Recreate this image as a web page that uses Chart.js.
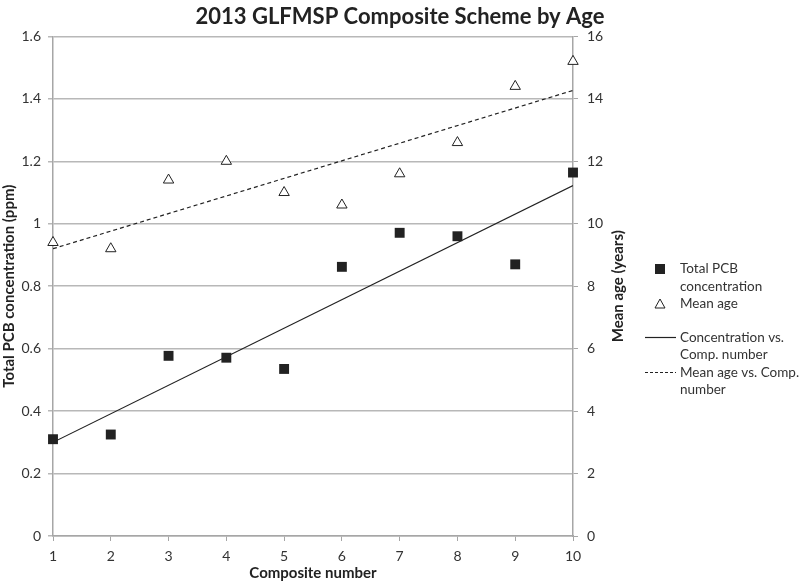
<!DOCTYPE html>
<html lang="en">
<head>
    <meta charset="UTF-8">
    <title>2013 GLFMSP Composite Scheme by Age</title>
    <script src="https://cdn.jsdelivr.net/npm/chart.js"></script>
    <style>
        html, body { margin: 0; padding: 0; background: #fff; }
        .wrap { width: 800px; height: 584px; position: relative; }
    </style>
</head>
<body>
    <div class="wrap"><canvas id="chart" width="800" height="584"></canvas></div>

    <script>
        // Composite numbers (x)
        const composites = [1, 2, 3, 4, 5, 6, 7, 8, 9, 10];
        // Total PCB concentration, ppm (left axis)
        const pcbConc = [0.31, 0.325, 0.577, 0.571, 0.535, 0.862, 0.971, 0.96, 0.87, 1.164];
        // Mean age, years (right axis)
        const meanAge = [9.4, 9.2, 11.4, 12.0, 11.0, 10.6, 11.6, 12.6, 14.4, 15.2];
        // trendline end points
        const concTrendX = [1, 10];
        const concTrendY = [0.30, 1.122];
        const ageTrendX = [1, 10];
        const ageTrendY = [9.2, 14.27];

        const rightTitle = 'Mean age (years)';
        const legendItems = [
            { kind: 'rect', lines: ['Total PCB', 'concentration'] },
            { kind: 'triangle', lines: ['Mean age'] },
            { kind: 'solid', lines: ['Concentration vs.', 'Comp. number'] },
            { kind: 'dash', lines: ['Mean age vs. Comp.', 'number'] }
        ];

        const FONT = 'Lato, "Liberation Sans", sans-serif';
        const INK = '#222';
        const GRID = '#b8b8b8';
        const AXIS = '#a6a6a6';

        const toPts = (xs, ys) => xs.map((x, i) => ({ x: x, y: ys[i] }));

        // legend + right axis title, drawn beside the plot
        const sideLegend = {
            id: 'sideLegend',
            afterDraw(chart) {
                const ctx = chart.ctx;
                const area = chart.chartArea;
                ctx.save();

                // right axis title, reading bottom to top
                ctx.save();
                ctx.translate(area.right + 45, (area.top + area.bottom) / 2);
                ctx.rotate(-Math.PI / 2);
                ctx.font = 'bold 15px ' + FONT;
                ctx.fillStyle = '#222';
                ctx.textAlign = 'center';
                ctx.textBaseline = 'middle';
                ctx.fillText(rightTitle, 0, 0);
                ctx.restore();

                const x0 = 660, tx = 680;
                let y = 269;
                ctx.font = '13.5px ' + FONT;
                ctx.textBaseline = 'middle';
                ctx.textAlign = 'left';
                legendItems.forEach((it, k) => {
                    ctx.strokeStyle = INK;
                    ctx.fillStyle = INK;
                    if (it.kind === 'rect') {
                        ctx.fillRect(x0 - 5, y - 5, 10, 10);
                    } else if (it.kind === 'triangle') {
                        ctx.lineWidth = 1;
                        ctx.beginPath();
                        ctx.moveTo(x0, y - 5);
                        ctx.lineTo(x0 + 5, y + 4);
                        ctx.lineTo(x0 - 5, y + 4);
                        ctx.closePath();
                        ctx.stroke();
                    } else {
                        ctx.lineWidth = 1.2;
                        ctx.setLineDash(it.kind === 'dash' ? [3, 2] : []);
                        ctx.beginPath();
                        ctx.moveTo(x0 - 15, y);
                        ctx.lineTo(x0 + 16, y);
                        ctx.stroke();
                        ctx.setLineDash([]);
                    }
                    ctx.fillStyle = '#333';
                    it.lines.forEach((t, j) => ctx.fillText(t, tx, y + j * 17.5));
                    y += it.lines.length * 17.5 + (k === 1 ? 16 : 0);
                });
                ctx.restore();
            }
        };

        const ctx = document.getElementById('chart').getContext('2d');
        new Chart(ctx, {
            type: 'scatter',
            data: {
                datasets: [
                    {
                        label: 'Total PCB concentration',
                        data: toPts(composites, pcbConc),
                        yAxisID: 'y',
                        pointStyle: 'rect',
                        pointRadius: 7,
                        backgroundColor: INK,
                        borderColor: INK,
                        borderWidth: 0,
                        clip: false
                    },
                    {
                        label: 'Mean age',
                        data: toPts(composites, meanAge),
                        yAxisID: 'y1',
                        pointStyle: 'triangle',
                        pointRadius: 6,
                        backgroundColor: '#fff',
                        borderColor: INK,
                        borderWidth: 1,
                        clip: false
                    },
                    {
                        type: 'line',
                        label: 'Concentration vs. Comp. number',
                        data: toPts(concTrendX, concTrendY),
                        yAxisID: 'y',
                        borderColor: INK,
                        borderWidth: 1.2,
                        pointRadius: 0,
                        fill: false
                    },
                    {
                        type: 'line',
                        label: 'Mean age vs. Comp. number',
                        data: toPts(ageTrendX, ageTrendY),
                        yAxisID: 'y1',
                        borderColor: INK,
                        borderWidth: 1.2,
                        borderDash: [4, 3],
                        pointRadius: 0,
                        fill: false
                    }
                ]
            },
            options: {
                responsive: false,
                animation: false,
                layout: { padding: 0 },
                plugins: {
                    legend: { display: false },
                    tooltip: { enabled: false },
                    title: {
                        display: true,
                        text: '2013 GLFMSP Composite Scheme by Age',
                        color: '#222',
                        font: { family: FONT, size: 22, weight: 'bold' },
                        padding: { top: 4, bottom: 6 }
                    }
                },
                scales: {
                    x: {
                        type: 'linear',
                        min: 1, max: 10,
                        afterFit: s => { s.height = 48; },
                        ticks: { stepSize: 1, color: '#333', font: { family: FONT, size: 14 }, padding: 7 },
                        grid: { drawOnChartArea: false, drawTicks: true, tickLength: 5, color: AXIS },
                        border: { color: AXIS, width: 1.5 },
                        title: {
                            display: true, text: 'Composite number', color: '#222',
                            font: { family: FONT, size: 15, weight: 'bold' }, padding: { top: 0, bottom: 2 }
                        }
                    },
                    y: {
                        position: 'left',
                        min: 0, max: 1.6,
                        afterFit: s => { s.width = 53; },
                        ticks: {
                            stepSize: 0.2, color: '#333', font: { family: FONT, size: 14 }, padding: 7,
                            callback: v => String(+v.toFixed(1))
                        },
                        grid: { color: GRID, lineWidth: 1.5, tickLength: 5 },
                        border: { color: AXIS, width: 1.5 },
                        title: {
                            display: true, text: 'Total PCB concentration (ppm)', color: '#222',
                            font: { family: FONT, size: 15, weight: 'bold' }, padding: { top: 0, bottom: 0 }
                        }
                    },
                    y1: {
                        position: 'right',
                        min: 0, max: 16,
                        afterFit: s => { s.width = 227; },
                        ticks: { stepSize: 2, color: '#333', font: { family: FONT, size: 14 }, padding: 9 },
                        grid: { drawOnChartArea: false, tickLength: 5, color: AXIS },
                        border: { color: AXIS, width: 1.5 }
                    }
                }
            },
            plugins: [sideLegend]
        });
    </script>
</body>
</html>
